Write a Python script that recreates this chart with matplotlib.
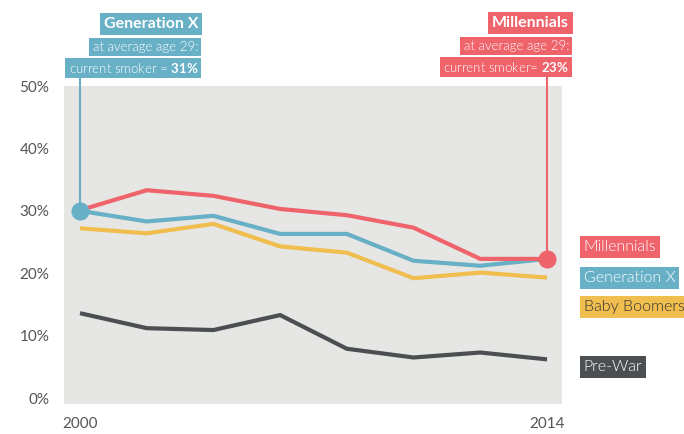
import matplotlib
matplotlib.use("Agg")
import matplotlib.pyplot as plt

years = [2000, 2002, 2004, 2006, 2008, 2010, 2012, 2014]
millennials = [30.1, 33.3, 32.4, 30.3, 29.3, 27.3, 22.3, 22.3]
gen_x = [30.0, 28.3, 29.2, 26.3, 26.3, 22.0, 21.2, 22.3]
boomers = [27.2, 26.4, 27.9, 24.3, 23.3, 19.2, 20.1, 19.3]
pre_war = [13.6, 11.2, 10.9, 13.3, 7.9, 6.5, 7.3, 6.2]

series_names = ["Millennials", "Generation X", "Baby Boomers", "Pre-War"]
y_ticks = [0, 10, 20, 30, 40, 50]
x_ticks = [2000, 2014]

RED = "#ef636b"
BLUE = "#68b0c6"
YELLOW = "#f0bd4f"
DARK = "#4b4f51"
BG = "#e6e6e4"
TXT = "#555555"
LIGHT = 300

plt.rcParams["font.family"] = ["Lato", "DejaVu Sans"]
plt.rcParams["mathtext.fontset"] = "custom"
plt.rcParams["mathtext.bf"] = "Lato:bold"
plt.rcParams["mathtext.rm"] = "Lato"

fig = plt.figure(figsize=(6.84, 4.34), dpi=100)
W, H = 684, 434
ax = fig.add_axes([64 / W, (H - 404) / H, (562 - 64) / W, (404 - 86) / H])
ax.set_facecolor(BG)
for s in ax.spines.values():
    s.set_visible(False)

ax.set_xlim(1999.52, 2014.45)
ax.set_ylim(-0.95, 49.4)

lw = 3.0
ax.plot(years, pre_war, color=DARK, lw=lw, solid_capstyle="butt", zorder=2)
ax.plot(years, boomers, color=YELLOW, lw=lw, solid_capstyle="butt", zorder=3)
ax.plot(years, gen_x, color=BLUE, lw=lw, solid_capstyle="butt", zorder=4)
ax.plot(years, millennials, color=RED, lw=lw, solid_capstyle="butt", zorder=5)

# callout stems and dots
ax.plot([years[0], years[0]], [gen_x[0], 51.3], color=BLUE, lw=1.5, clip_on=False, zorder=6)
ax.plot([years[-1], years[-1]], [millennials[-1], 51.3], color=RED, lw=1.5, clip_on=False, zorder=6)
ax.plot(years[0], gen_x[0], "o", color=BLUE, ms=12, clip_on=False, zorder=7)
ax.plot(years[-1], millennials[-1], "o", color=RED, ms=12, clip_on=False, zorder=7)


def callout(x, y, dx, dys, title, value, color):
    box = dict(boxstyle="square,pad=0.25", fc=color, ec="none")
    ax.annotate(title, (x, y), xytext=(dx, dys[0]), textcoords="offset pixels",
                ha="right", va="center", fontsize=11.5, fontweight="bold",
                color="white", bbox=box, annotation_clip=False)
    ax.annotate("at average age 29:", (x, y), xytext=(dx, dys[1]), textcoords="offset pixels",
                ha="right", va="center", fontsize=9.5, fontweight=LIGHT,
                color="white", bbox=box, annotation_clip=False)
    ax.annotate(value, (x, y), xytext=(dx, dys[2]), textcoords="offset pixels",
                ha="right", va="center", fontsize=9.5, fontweight=LIGHT,
                color="white", bbox=box, annotation_clip=False)


callout(years[0], gen_x[0], 118, (187, 164, 143), "Generation X",
        r"current smoker = $\mathbf{31\%}$", BLUE)
callout(years[-1], millennials[-1], 22, (236, 213, 192), "Millennials",
        r"current smoker= $\mathbf{23\%}$", RED)

# series labels at the right
label_y = [24.2, 19.3, 14.6, 4.9]
label_fc = [RED, BLUE, YELLOW, DARK]
label_tc = ["white", "white", "#333333", "white"]
for name, yy, fc, tc in zip(series_names, label_y, label_fc, label_tc):
    ax.text(2015.1, yy, name, ha="left", va="center", fontsize=11.5, fontweight=LIGHT,
            color=tc, bbox=dict(boxstyle="square,pad=0.25", fc=fc, ec="none"), clip_on=False)

ax.set_yticks(y_ticks)
ax.set_yticklabels([f"{v}%" for v in y_ticks], fontsize=11, color=TXT)
ax.set_xticks(x_ticks)
ax.set_xticklabels([str(v) for v in x_ticks], fontsize=11, color=TXT)
ax.tick_params(length=0)
ax.tick_params(axis="y", pad=10.5)
ax.tick_params(axis="x", pad=9)

fig.savefig("out.png", dpi=100)
